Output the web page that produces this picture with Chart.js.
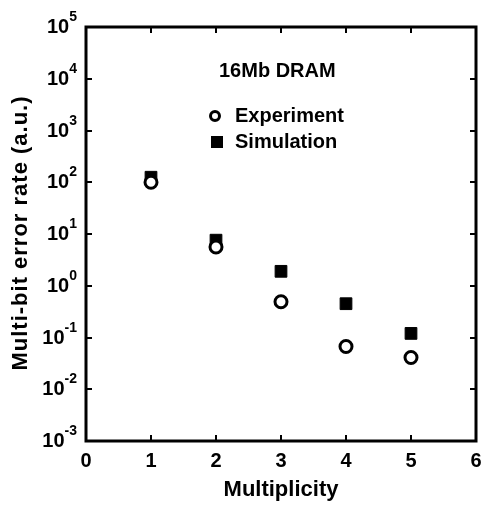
<!DOCTYPE html>
<html>
<head>
<meta charset="utf-8">
<script src="https://cdn.jsdelivr.net/npm/chart.js@4"></script>
<style>
  html, body { margin: 0; padding: 0; background: #fff; }
  #chart { display: block; }
</style>
</head>
<body>
<canvas id="chart" width="482" height="506"></canvas>
<script>
// --- Data ---
const multiplicity = [1, 2, 3, 4, 5];
const experimentRate = [100, 5.6, 0.49, 0.067, 0.041];
const simulationRate = [125, 7.6, 1.9, 0.45, 0.12];

const xTicks = [0, 1, 2, 3, 4, 5, 6];
const yExponents = [5, 4, 3, 2, 1, 0, -1, -2, -3];

const chartLabel = '16Mb DRAM';
const seriesNames = ['Experiment', 'Simulation'];
const xTitle = 'Multiplicity';
const yTitle = 'Multi-bit error rate (a.u.)';

const FONT = '"Liberation Sans", Arial, Helvetica, sans-serif';

// --- Frame, ticks and text drawn on top of the chart ---
const framePlugin = {
    id: 'frame',
    afterDraw(chart) {
        const { ctx, chartArea: a, scales } = chart;
        const xs = scales.x, ys = scales.y;
        ctx.save();
        ctx.strokeStyle = '#000';
        ctx.fillStyle = '#000';

        // box
        ctx.lineWidth = 3;
        ctx.strokeRect(a.left, a.top, a.right - a.left, a.bottom - a.top);

        // inward ticks
        ctx.lineWidth = 2;
        const tl = 6;
        ctx.beginPath();
        xTicks.slice(1, -1).forEach(v => {
            const px = Math.round(xs.getPixelForValue(v));
            ctx.moveTo(px, a.bottom); ctx.lineTo(px, a.bottom - tl);
            ctx.moveTo(px, a.top); ctx.lineTo(px, a.top + tl);
        });
        yExponents.slice(1, -1).forEach(e => {
            const py = Math.round(ys.getPixelForValue(Math.pow(10, e)));
            ctx.moveTo(a.left, py); ctx.lineTo(a.left + tl, py);
            ctx.moveTo(a.right, py); ctx.lineTo(a.right - tl, py);
        });
        ctx.stroke();

        // x tick labels
        ctx.font = 'bold 20px ' + FONT;
        ctx.textAlign = 'center';
        ctx.textBaseline = 'middle';
        xTicks.forEach(v => {
            ctx.fillText(String(v), xs.getPixelForValue(v), a.bottom + 20);
        });

        // y tick labels: 10 with superscript exponent
        yExponents.forEach(e => {
            const py = ys.getPixelForValue(Math.pow(10, e));
            const expText = String(e);
            ctx.font = 'bold 14px ' + FONT;
            const ew = ctx.measureText(expText).width;
            const right = 77;
            ctx.textAlign = 'left';
            ctx.textBaseline = 'alphabetic';
            ctx.fillText(expText, right - ew, py - 6);
            ctx.font = 'bold 20px ' + FONT;
            ctx.textAlign = 'right';
            ctx.fillText('10', right - ew, py + 6);
        });

        // axis titles
        ctx.font = 'bold 22px ' + FONT;
        ctx.textAlign = 'center';
        ctx.textBaseline = 'middle';
        ctx.fillText(xTitle, 281, 490);
        ctx.save();
        ctx.letterSpacing = '1px';
        ctx.translate(21, 233);
        ctx.rotate(-Math.PI / 2);
        ctx.fillText(yTitle, 0, 0);
        ctx.restore();

        // in-plot label and legend
        ctx.font = 'bold 20px ' + FONT;
        ctx.textAlign = 'left';
        ctx.textBaseline = 'middle';
        ctx.fillText(chartLabel, 219, 71);
        ctx.fillText(seriesNames[0], 235, 116);
        ctx.fillText(seriesNames[1], 235, 142);

        ctx.lineWidth = 3;
        ctx.beginPath();
        ctx.arc(215, 116, 4.5, 0, Math.PI * 2);
        ctx.stroke();
        ctx.fillRect(211, 136, 12, 12);

        ctx.restore();
    }
};

const ctx = document.getElementById('chart').getContext('2d');
new Chart(ctx, {
    type: 'scatter',
    data: {
        datasets: [
            {
                label: seriesNames[0],
                data: multiplicity.map((m, i) => ({ x: m, y: experimentRate[i] })),
                pointStyle: 'circle',
                pointRadius: 6,
                pointBorderWidth: 3,
                borderColor: '#000',
                backgroundColor: '#fff',
                order: 0
            },
            {
                label: seriesNames[1],
                data: multiplicity.map((m, i) => ({ x: m, y: simulationRate[i] })),
                pointStyle: 'rect',
                pointRadius: 8.3,
                pointBorderWidth: 1,
                borderColor: '#000',
                backgroundColor: '#000',
                order: 1
            }
        ]
    },
    options: {
        responsive: false,
        animation: false,
        devicePixelRatio: 1,
        layout: { autoPadding: false, padding: { top: 27, right: 6, left: 0, bottom: 0 } },
        plugins: {
            legend: { display: false },
            tooltip: { enabled: false }
        },
        scales: {
            x: {
                type: 'linear',
                min: 0,
                max: 6,
                ticks: { display: false },
                grid: { display: false },
                border: { display: false },
                afterFit: s => { s.height = 65; }
            },
            y: {
                type: 'logarithmic',
                min: 1e-3,
                max: 1e5,
                ticks: { display: false },
                grid: { display: false },
                border: { display: false },
                afterFit: s => { s.width = 86; }
            }
        }
    },
    plugins: [framePlugin]
});
</script>
</body>
</html>
